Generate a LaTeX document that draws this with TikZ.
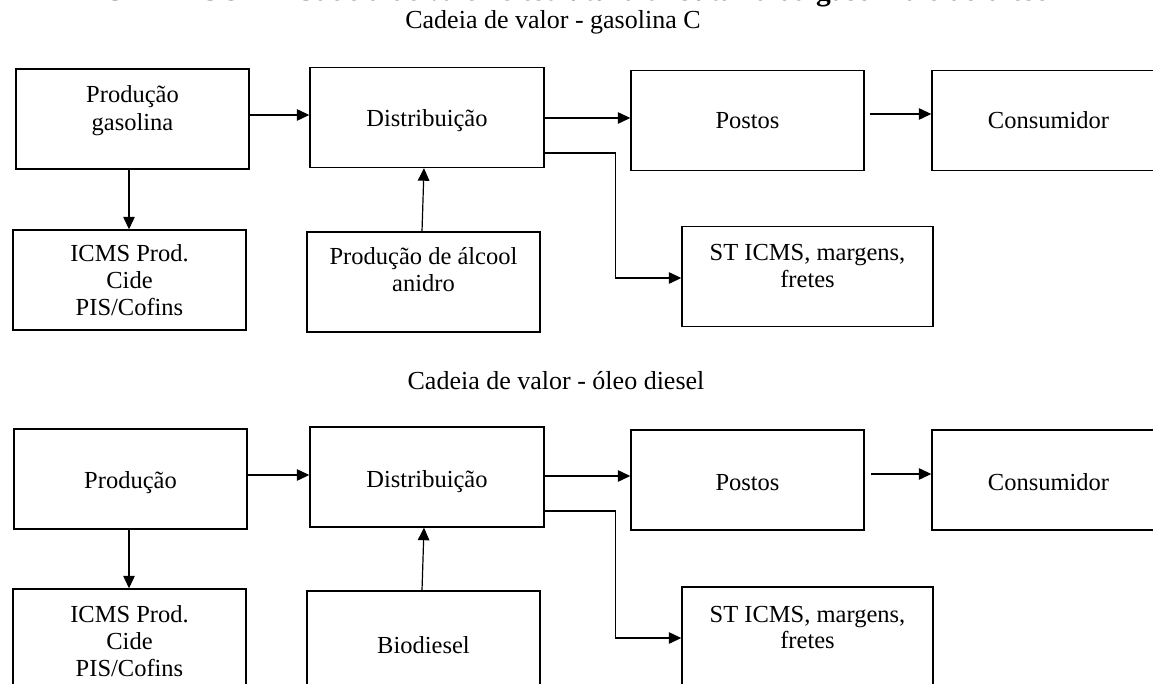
\documentclass[tikz,border=0pt]{standalone}
\usepackage{fontspec}
\setmainfont{Liberation Serif}
\usetikzlibrary{arrows.meta}

\begin{document}
\begin{tikzpicture}[x=1pt,y=-1pt,
  box/.style={draw, rectangle, line width=1.4pt, inner sep=0pt,
              minimum width=233pt, minimum height=100pt},
  widebox/.style={box, minimum width=251pt},
  lbl/.style={anchor=base, inner sep=0pt, font=\fontsize{24.5}{28}\selectfont},
  heading/.style={anchor=base, inner sep=0pt, font=\fontsize{26}{30}\selectfont},
  arr/.style={line width=1.2pt, -{Triangle[length=12.5pt,width=11.5pt]}}]

\useasboundingbox (0,0) rectangle (1153,684);
\fill[white] (0,0) rectangle (1153,684);
\clip (0,0) rectangle (1153,684);

% caption running off the top edge
\node[anchor=base west, inner sep=0pt, font=\bfseries\fontsize{29.5}{32}\selectfont] (caption)
  at (103,1) {GRÁFICO 1 – Cadeia de valor e estrutura tributária da gasolina e do diesel};

% ---------------- gasolina C ----------------
\node[heading] (titleA) at (553,29) {Cadeia de valor - gasolina C};

\node[box] (pg) at (132.5,119) {};
\node[box, minimum width=234pt] (d1) at (427,117.5) {};
\node[box] (p1) at (747.5,120.5) {};
\node[box] (c1) at (1048.5,120.5) {};
\node[box] (i1) at (129.5,280) {};
\node[box] (a1) at (423.5,282) {};
\node[widebox] (s1) at (807.5,276.5) {};

\node[lbl] (pgA) at (132.5,103) {Produção};
\node[lbl] (pgB) at (132.5,131) {gasolina};
\node[lbl] (d1A) at (427,127) {Distribuição};
\node[lbl] (p1A) at (747.5,129) {Postos};
\node[lbl] (c1A) at (1048.5,129) {Consumidor};
\node[lbl] (i1A) at (129.5,262) {ICMS Prod.};
\node[lbl] (i1B) at (129.5,289) {Cide};
\node[lbl] (i1C) at (129.5,316) {PIS/Cofins};
\node[lbl] (a1A) at (423.5,265) {Produção de álcool};
\node[lbl] (a1B) at (423.5,292) {anidro};
\node[lbl] (s1A) at (807.5,261) {ST ICMS, margens,};
\node[lbl] (s1B) at (807.5,288) {fretes};

\draw[arr] ([yshift=4pt]pg.east) -- ([yshift=2.5pt]d1.west);
\draw[arr] ([xshift=-3.5pt]pg.south) -- ([xshift=-0.5pt]i1.north);
\draw[arr] ([xshift=-1.5pt]a1.north) -- ([xshift=-3pt]d1.south);
\draw[arr] ([yshift=-0.5pt]d1.east) -- ([yshift=2.5pt]p1.west);
\draw[arr] ([xshift=5pt,yshift=6.5pt]p1.east) -- ([yshift=6.5pt]c1.west);
\draw[arr] ([yshift=-35.5pt]d1.east) -- ++(71,0) |- ([yshift=-1.5pt]s1.west);

% ---------------- óleo diesel ----------------
\node[heading] (titleB) at (556,389) {Cadeia de valor - óleo diesel};

\node[box] (pr) at (130.5,479) {};
\node[box, minimum width=234pt] (d2) at (427,477) {};
\node[box] (p2) at (747.5,480) {};
\node[box] (c2) at (1048.5,480) {};
\node[box] (i2) at (129.5,639) {};
\node[box] (b2) at (423.5,641) {};
\node[widebox] (s2) at (807.5,637) {};

\node[lbl] (prA) at (130.5,488) {Produção};
\node[lbl] (d2A) at (427,487) {Distribuição};
\node[lbl] (p2A) at (747.5,490) {Postos};
\node[lbl] (c2A) at (1048.5,490) {Consumidor};
\node[lbl] (i2A) at (129.5,622) {ICMS Prod.};
\node[lbl] (i2B) at (129.5,649) {Cide};
\node[lbl] (i2C) at (129.5,676) {PIS/Cofins};
\node[lbl] (b2A) at (423.5,653) {Biodiesel};
\node[lbl] (s2A) at (807.5,622) {ST ICMS, margens,};
\node[lbl] (s2B) at (807.5,648) {fretes};

\draw[arr] ([yshift=4pt]pr.east) -- ([yshift=2pt]d2.west);
\draw[arr] ([xshift=-1.5pt]pr.south) -- ([xshift=-0.5pt]i2.north);
\draw[arr] ([xshift=-1.5pt]b2.north) -- ([xshift=-3pt]d2.south);
\draw[arr] ([yshift=1pt]d2.east) -- ([yshift=4pt]p2.west);
\draw[arr] ([xshift=6pt,yshift=6pt]p2.east) -- ([yshift=6pt]c2.west);
\draw[arr] ([yshift=-34pt]d2.east) -- ++(71,0) |- ([yshift=-1pt]s2.west);

\end{tikzpicture}
\end{document}
